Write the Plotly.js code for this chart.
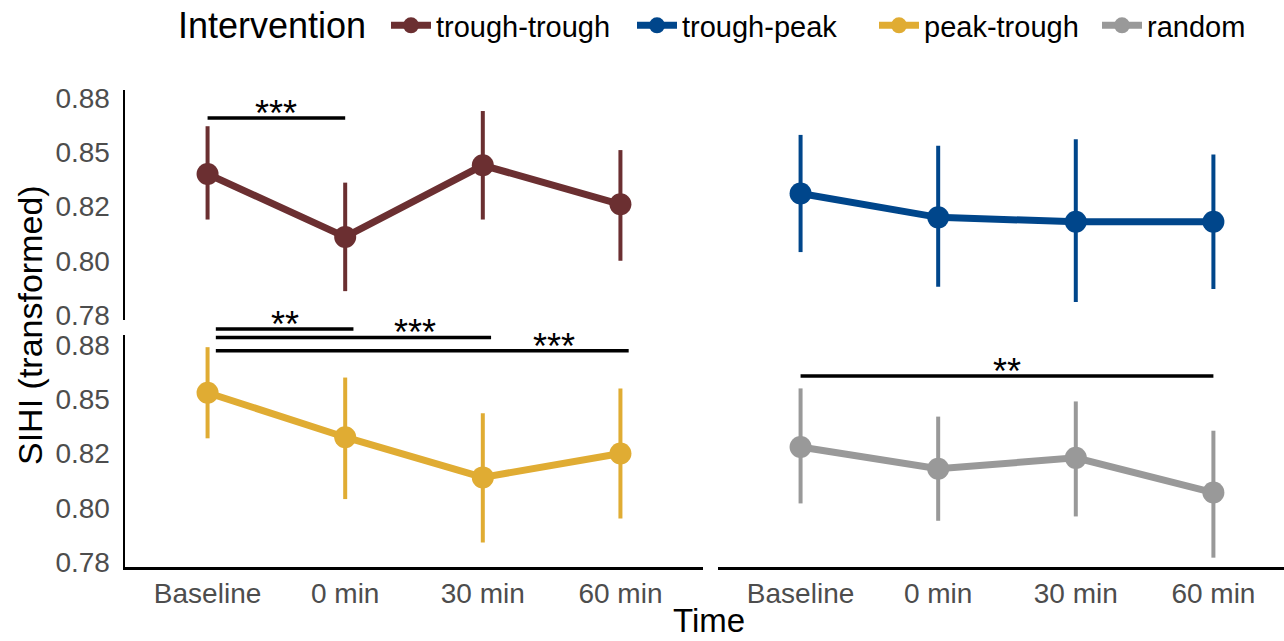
<!DOCTYPE html>
<html><head><meta charset="utf-8">
<script src="https://cdn.plot.ly/plotly-3.0.1.min.js"></script>
<style>html,body{margin:0;padding:0;background:#fff;} #plot{width:1284px;height:641px;}</style>
</head><body><div id="plot"></div>
<script>
// ---- data ----
const timepoints = ['Baseline', '0 min', '30 min', '60 min'];
const groups = ['trough-trough', 'trough-peak', 'peak-trough', 'random'];

const ttMean  = [0.840, 0.811, 0.844, 0.826];
const ttLower = [0.819, 0.786, 0.819, 0.800];
const ttUpper = [0.862, 0.836, 0.869, 0.851];

const tpMean  = [0.831, 0.820, 0.818, 0.818];
const tpLower = [0.804, 0.788, 0.781, 0.787];
const tpUpper = [0.858, 0.853, 0.856, 0.849];

const ptMean  = [0.853, 0.8325, 0.814, 0.825];
const ptLower = [0.832, 0.804, 0.784, 0.795];
const ptUpper = [0.874, 0.860, 0.8435, 0.855];

const rdMean  = [0.828, 0.818, 0.823, 0.807];
const rdLower = [0.802, 0.794, 0.796, 0.777];
const rdUpper = [0.855, 0.842, 0.849, 0.8355];

const yTickVals = [0.775, 0.800, 0.825, 0.850, 0.875];
const yTickText = ['0.78', '0.80', '0.82', '0.85', '0.88'];

// significance brackets
const sigPanel  = [0, 2, 2, 2, 3];
const sigFrom   = [0, 0, 0, 0, 0];
const sigTo     = [1, 1, 2, 3, 3];
const sigY      = [0.8658, 0.8824, 0.8785, 0.8724, 0.8607];
const sigLabel  = ['***', '**', '***', '***', '**'];
const sigLabelX = [0.5, 0.565, 1.51, 2.52, 1.5];

const legendTitle = 'Intervention';

// ---- styling / layout ----
const colors = ['#6B2F31', '#00468B', '#E0AC33', '#999999'];
const W = 1284, H = 641;
const xLeft = [125 / W, 703 / W], xRight = [718 / W, 1];
const yTop = [1 - 320 / H, 1 - 90 / H], yBot = [1 - 567 / H, 1 - 335 / H];
const xRangeL = [-0.6, 3.6], xRangeR = [-0.6, 3.513];
const yRangeT = [0.7727, 0.87869], yRangeB = [0.7727, 0.87961];
const legendOrigins = [386, 632, 874, 1097];

const panels = [
  {xd: xLeft,  yd: yTop, xr: xRangeL, yr: yRangeT},
  {xd: xRight, yd: yTop, xr: xRangeR, yr: yRangeT},
  {xd: xLeft,  yd: yBot, xr: xRangeL, yr: yRangeB},
  {xd: xRight, yd: yBot, xr: xRangeR, yr: yRangeB}
];
const means = [ttMean, tpMean, ptMean, rdMean];
const lowers = [ttLower, tpLower, ptLower, rdLower];
const uppers = [ttUpper, tpUpper, ptUpper, rdUpper];
const legendIds = ['legend', 'legend2', 'legend3', 'legend4'];

const traces = groups.map((g, i) => ({
  type: 'scatter', mode: 'lines+markers', name: g,
  x: timepoints, y: means[i],
  xaxis: 'x' + (i + 1), yaxis: 'y' + (i + 1),
  legend: legendIds[i],
  line: {color: colors[i], width: 7},
  marker: {color: colors[i], size: 22},
  error_y: {type: 'data', symmetric: false,
    array: uppers[i].map((u, k) => u - means[i][k]),
    arrayminus: lowers[i].map((l, k) => means[i][k] - l),
    color: colors[i], thickness: 4, width: 0},
  hoverinfo: 'x+y'
}));

const FONT = 'Liberation Sans, Arial, sans-serif';
const tickFont = {family: FONT, size: 28, color: '#4D4D4D'};
const layout = {
  width: W, height: H,
  margin: {l: 0, r: 0, t: 0, b: 0},
  paper_bgcolor: '#fff', plot_bgcolor: '#fff',
  font: {family: FONT, color: '#000'},
  showlegend: true,
  shapes: [], annotations: []
};
legendIds.forEach((id, i) => {
  layout[id] = {orientation: 'h', x: legendOrigins[i] / W, xanchor: 'left', y: 1.0, yanchor: 'top',
    font: {size: 29, color: '#000', family: FONT}, itemwidth: 40, bgcolor: 'rgba(0,0,0,0)', borderwidth: 0};
});

panels.forEach((p, i) => {
  const n = i + 1;
  const isBottom = i >= 2, isLeft = i % 2 === 0;
  layout['xaxis' + (n === 1 ? '' : n)] = {
    domain: p.xd, anchor: 'y' + n, range: p.xr, type: 'category',
    categoryorder: 'array', categoryarray: timepoints,
    showgrid: false, zeroline: false, ticks: '',
    showline: isBottom, linecolor: '#000', linewidth: 2.5,
    showticklabels: isBottom, tickfont: tickFont, ticklabelstandoff: 0
  };
  layout['yaxis' + (n === 1 ? '' : n)] = {
    domain: p.yd, anchor: 'x' + n, range: p.yr,
    tickvals: yTickVals, ticktext: yTickText,
    showgrid: false, zeroline: false, ticks: '',
    showline: isLeft, linecolor: '#000', linewidth: 2.5,
    showticklabels: isLeft, tickfont: tickFont, ticklabelstandoff: 7
  };
});

const toPaperX = (p, v) => p.xd[0] + (v - p.xr[0]) / (p.xr[1] - p.xr[0]) * (p.xd[1] - p.xd[0]);
const toPaperY = (p, v) => p.yd[0] + (v - p.yr[0]) / (p.yr[1] - p.yr[0]) * (p.yd[1] - p.yd[0]);
const bracketShift = 0.06;

sigPanel.forEach((pi, k) => {
  const p = panels[pi];
  const shift = pi === 2 ? bracketShift : 0;
  layout.shapes.push({type: 'line', xref: 'paper', yref: 'paper',
    x0: toPaperX(p, sigFrom[k] + shift), x1: toPaperX(p, sigTo[k] + shift),
    y0: toPaperY(p, sigY[k]), y1: toPaperY(p, sigY[k]),
    line: {color: '#000', width: 3.5}});
  layout.annotations.push({xref: 'paper', yref: 'paper',
    x: toPaperX(p, sigLabelX[k]), y: toPaperY(p, sigY[k]),
    text: sigLabel[k], showarrow: false, xanchor: 'center', yanchor: 'bottom', yshift: -18,
    font: {size: 36, color: '#000', family: FONT}});
});

layout.annotations.push({xref: 'paper', yref: 'paper', x: 271.5 / W, y: 1 - 26 / H,
  text: legendTitle, showarrow: false, xanchor: 'center', yanchor: 'middle',
  font: {size: 36, color: '#000'}});
layout.annotations.push({xref: 'paper', yref: 'paper', x: 30 / W, y: 1 - 325 / H,
  text: 'SIHI (transformed)', textangle: -90, showarrow: false,
  xanchor: 'center', yanchor: 'middle', font: {size: 34, color: '#000'}});
layout.annotations.push({xref: 'paper', yref: 'paper', x: 709 / W, y: 0,
  text: 'Time', showarrow: false, xanchor: 'center', yanchor: 'bottom',
  font: {size: 33, color: '#000'}});

Plotly.newPlot('plot', traces, layout, {displayModeBar: false, staticPlot: true});
</script></body></html>
